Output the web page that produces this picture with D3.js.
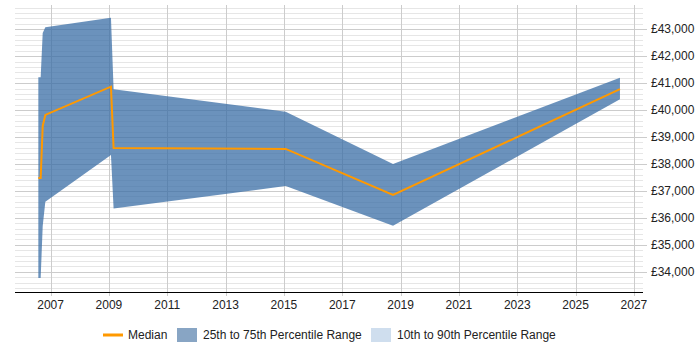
<!DOCTYPE html>
<html>
<head>
<meta charset="utf-8">
<script src="https://cdnjs.cloudflare.com/ajax/libs/d3/7.8.5/d3.min.js"></script>
<style>
  body { margin: 0; background: #fff; }
  text { font-family: "Liberation Sans", Arial, sans-serif; font-size: 12px; fill: #222; }
</style>
</head>
<body>
<script>
// chart data
var dates  = [2006.58, 2006.66, 2006.73, 2006.82, 2009.07, 2009.16, 2015.06, 2018.74, 2026.52];
var median = [37480, 37480, 39410, 39820, 40870, 38590, 38560, 36850, 40780];
var p25    = [33770, 33770, 35700, 36600, 38330, 36350, 37180, 35710, 40400];
var p75    = [41220, 41220, 42860, 43070, 43430, 40770, 39940, 38000, 41200];
var xTicks = [2007, 2009, 2011, 2013, 2015, 2017, 2019, 2021, 2023, 2025, 2027];
var legendLabels = ["Median", "25th to 75th Percentile Range", "10th to 90th Percentile Range"];

var W = 700, H = 350;
var margin = {top: 5, right: 57, bottom: 58, left: 15};
var width = W - margin.left - margin.right,
    height = H - margin.top - margin.bottom;

var svg = d3.select("body").append("svg")
    .attr("width", W).attr("height", H)
  .append("g")
    .attr("transform", "translate(" + margin.left + "," + margin.top + ")");

var x = d3.scaleLinear().domain([2005.78, 2027.31]).range([0, width]);
var y = d3.scaleLinear().domain([33250, 43900]).range([height, 0]);

var data = dates.map(function(d, i) {
  return {date: d, median: median[i], lo: p25[i], hi: p75[i]};
});

// minor horizontal grid
svg.append("g").selectAll("line")
  .data(d3.range(33400, 43900, 200).filter(function(v) { return v % 1000 != 0; }))
  .enter().append("line")
  .attr("x1", 0).attr("x2", width)
  .attr("y1", function(d) { return Math.round(y(d)) + 0.5; })
  .attr("y2", function(d) { return Math.round(y(d)) + 0.5; })
  .attr("stroke", "#e6e6e6");

// major horizontal grid
svg.append("g").selectAll("line")
  .data(d3.range(34000, 44000, 1000))
  .enter().append("line")
  .attr("x1", 0).attr("x2", width + 4)
  .attr("y1", function(d) { return Math.round(y(d)) + 0.5; })
  .attr("y2", function(d) { return Math.round(y(d)) + 0.5; })
  .attr("stroke", "#cccccc");

// vertical grid
svg.append("g").selectAll("line")
  .data(xTicks)
  .enter().append("line")
  .attr("x1", function(d) { return Math.round(x(d)) + 0.5; })
  .attr("x2", function(d) { return Math.round(x(d)) + 0.5; })
  .attr("y1", 0).attr("y2", height + 4)
  .attr("stroke", "#cccccc");

// 25th-75th band
var area = d3.area()
  .x(function(d) { return x(d.date); })
  .y0(function(d) { return y(d.lo); })
  .y1(function(d) { return y(d.hi); });
svg.append("path").datum(data)
  .attr("d", area)
  .attr("fill", "#3a6ea5")
  .attr("fill-opacity", 0.75);

// median
var line = d3.line()
  .x(function(d) { return x(d.date); })
  .y(function(d) { return y(d.median); });
svg.append("path").datum(data)
  .attr("d", line)
  .attr("fill", "none")
  .attr("stroke", "#ff9900")
  .attr("stroke-width", 2);

// x axis
svg.append("line")
  .attr("x1", 0).attr("x2", width)
  .attr("y1", height + 0.5).attr("y2", height + 0.5)
  .attr("stroke", "#000");
svg.append("g").selectAll("text")
  .data(xTicks)
  .enter().append("text")
  .attr("x", function(d) { return x(d); })
  .attr("y", height + 17)
  .attr("text-anchor", "middle")
  .text(function(d) { return d; });

// y labels on the right
var fmt = d3.format(",");
svg.append("g").selectAll("text")
  .data(d3.range(34000, 44000, 1000))
  .enter().append("text")
  .attr("x", width + 8)
  .attr("y", function(d) { return y(d) + 4; })
  .text(function(d) { return "£" + fmt(d); });

// legend
var lg = d3.select("svg").append("g").attr("transform", "translate(0,335)");
lg.append("line").attr("x1", 103).attr("x2", 123).attr("y1", 0).attr("y2", 0)
  .attr("stroke", "#ff9900").attr("stroke-width", 3);
lg.append("text").attr("x", 128).attr("y", 4).text(legendLabels[0]);
lg.append("rect").attr("x", 177).attr("y", -7).attr("width", 20).attr("height", 14)
  .attr("fill", "#88a5c4");
lg.append("text").attr("x", 203).attr("y", 4).text(legendLabels[1]);
lg.append("rect").attr("x", 371).attr("y", -7).attr("width", 20).attr("height", 14)
  .attr("fill", "#cfdeee");
lg.append("text").attr("x", 397).attr("y", 4).text(legendLabels[2]);
</script>
</body>
</html>
